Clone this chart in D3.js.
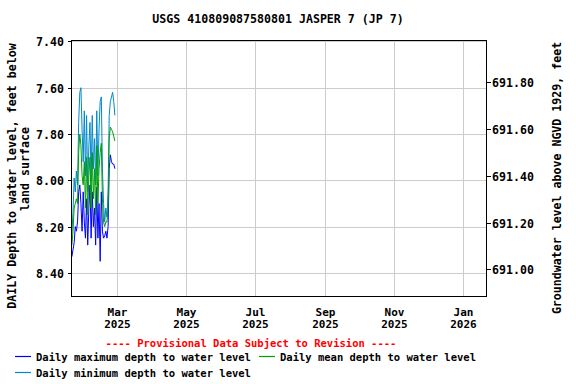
<!DOCTYPE html>
<html>
<head>
<meta charset="utf-8">
<script src="https://cdn.jsdelivr.net/npm/d3@7"></script>
<style>
  body { margin: 0; background: #fff; }
  text { font-family: "DejaVu Sans Mono", monospace; font-weight: bold; }
</style>
</head>
<body>
<div id="chart"></div>
<script>
// daily values, Jan 20 2025 .. Feb 27 2025
var startDay = Date.UTC(2025, 0, 20);
var maxDepth = [8.33, 8.30, 8.27, 8.20, 8.22, 8.18, 8.05, 8.02, 8.10, 8.22, 8.05, 8.18, 8.25,
  8.08, 8.28, 8.12, 8.02, 8.25, 8.05, 8.20, 8.12, 8.28, 8.03, 8.25, 8.10, 8.35, 8.05, 8.22,
  8.25, 8.24, 8.22, 8.25, 8.20, 7.95, 7.89, 7.92, 7.93, 7.93, 7.95];
var meanDepth = [8.28, 8.22, 8.12, 8.10, 8.08, 8.10, 7.88, 7.80, 7.85, 7.98, 8.02, 7.92, 8.12,
  7.90, 8.15, 7.98, 7.90, 8.12, 7.88, 8.08, 7.95, 8.15, 7.85, 8.10, 7.95, 7.88, 7.84, 8.08,
  8.18, 8.20, 8.18, 8.18, 8.12, 7.82, 7.77, 7.78, 7.79, 7.81, 7.83];
var minDepth = [8.23, 8.14, 7.99, 8.05, 7.96, 8.02, 7.75, 7.62, 7.60, 7.78, 7.92, 7.70, 7.98,
  7.72, 8.05, 7.85, 7.75, 8.00, 7.72, 7.95, 7.82, 8.02, 7.70, 7.98, 7.78, 7.66, 7.64, 7.95,
  8.10, 8.18, 8.12, 8.16, 8.05, 7.72, 7.66, 7.64, 7.62, 7.66, 7.72];

var depthTicks = [7.4, 7.6, 7.8, 8.0, 8.2, 8.4];
var elevTicks = [691.0, 691.2, 691.4, 691.6, 691.8];
var monthTicks = [Date.UTC(2025, 2, 1), Date.UTC(2025, 4, 1), Date.UTC(2025, 6, 1),
  Date.UTC(2025, 8, 1), Date.UTC(2025, 10, 1), Date.UTC(2026, 0, 1)];

var W = 576, H = 384;
var pL = 71.5, pR = 486.5, pT = 40, pB = 296.5;

var svg = d3.select("#chart").append("svg")
  .attr("width", W).attr("height", H);

var x = d3.scaleUtc()
  .domain([new Date(Date.UTC(2025, 0, 19, 16)), new Date(Date.UTC(2026, 0, 21, 8))])
  .range([pL, pR]);
var y = d3.scaleLinear().domain([7.394, 8.502]).range([pT, pB]);
var y2 = d3.scaleLinear().domain([691.977, 690.885]).range([pT, pB]);

function toRows(vals) {
  return vals.map(function(v, i) { return {date: new Date(startDay + i * 864e5), v: v}; });
}

// grid
var grid = svg.append("g").attr("shape-rendering", "crispEdges");
grid.selectAll(".gy").data(depthTicks).enter().append("line")
  .attr("x1", pL).attr("x2", pR)
  .attr("y1", function(d) { return Math.round(y(d)) + 0.5; })
  .attr("y2", function(d) { return Math.round(y(d)) + 0.5; })
  .attr("stroke", "#cccccc");
grid.selectAll(".gx").data(monthTicks).enter().append("line")
  .attr("y1", pT).attr("y2", pB)
  .attr("x1", function(d) { return Math.round(x(new Date(d))) + 0.5; })
  .attr("x2", function(d) { return Math.round(x(new Date(d))) + 0.5; })
  .attr("stroke", "#cccccc");

// data lines
var line = d3.line().x(function(d) { return x(d.date); }).y(function(d) { return y(d.v); });
[[maxDepth, "#0000ff"], [minDepth, "#0088cc"], [meanDepth, "#00a000"]].forEach(function(s) {
  svg.append("path").datum(toRows(s[0]))
    .attr("d", line).attr("fill", "none")
    .attr("stroke", s[1]).attr("stroke-width", 1);
});

// frame
svg.append("rect").attr("x", pL).attr("y", pT + 0.5)
  .attr("width", pR - pL).attr("height", pB - pT - 0.5)
  .attr("fill", "none").attr("stroke", "#000").attr("shape-rendering", "crispEdges");

// axes
var ax = svg.append("g").attr("font-size", "11.6px");
depthTicks.forEach(function(d) {
  var yy = Math.round(y(d)) + 0.5;
  ax.append("line").attr("x1", pL - 4).attr("x2", pL).attr("y1", yy).attr("y2", yy)
    .attr("stroke", "#000").attr("shape-rendering", "crispEdges");
  ax.append("text").attr("x", 64).attr("y", yy + 4).attr("text-anchor", "end").text(d.toFixed(2));
});
elevTicks.forEach(function(d) {
  var yy = Math.round(y2(d)) + 0.5;
  ax.append("line").attr("x1", pR).attr("x2", pR + 4).attr("y1", yy).attr("y2", yy)
    .attr("stroke", "#000").attr("shape-rendering", "crispEdges");
  ax.append("text").attr("x", 492).attr("y", yy + 4).text(d.toFixed(2));
});
monthTicks.forEach(function(d) {
  var dt = new Date(d);
  var xx = Math.round(x(dt)) + 0.5;
  ax.append("text").attr("x", xx).attr("y", 315.5).attr("text-anchor", "middle")
    .attr("font-size", "11px").text(d3.utcFormat("%b")(dt));
  ax.append("text").attr("x", xx).attr("y", 328).attr("text-anchor", "middle")
    .attr("font-size", "11px").text(d3.utcFormat("%Y")(dt));
});

// titles
ax.append("text").attr("x", 278).attr("y", 23).attr("text-anchor", "middle")
  .text("USGS 410809087580801 JASPER 7 (JP 7)");
ax.append("text").attr("transform", "translate(16,176) rotate(-90)")
  .attr("text-anchor", "middle").text("DAILY Depth to water level, feet below");
ax.append("text").attr("transform", "translate(29,169) rotate(-90)")
  .attr("text-anchor", "middle").text("land surface");
ax.append("text").attr("transform", "translate(561,178) rotate(-90)")
  .attr("text-anchor", "middle").text("Groundwater level above NGVD 1929, feet");

// legend
var lg = svg.append("g").attr("font-size", "10.5px");
lg.append("text").attr("x", 251).attr("y", 347).attr("text-anchor", "middle")
  .attr("fill", "#ff0000").text("---- Provisional Data Subject to Revision ----");
var items = [
  {label: "Daily maximum depth to water level", color: "#0000ff", lx: 15, ly: 356},
  {label: "Daily mean depth to water level", color: "#00a000", lx: 259, ly: 356},
  {label: "Daily minimum depth to water level", color: "#0088cc", lx: 15, ly: 372}
];
items.forEach(function(it) {
  lg.append("line").attr("x1", it.lx).attr("x2", it.lx + 16)
    .attr("y1", it.ly + 0.5).attr("y2", it.ly + 0.5)
    .attr("stroke", it.color).attr("stroke-width", 1.2);
  lg.append("text").attr("x", it.lx + 21).attr("y", it.ly + 4.5).text(it.label);
});
</script>
</body>
</html>
